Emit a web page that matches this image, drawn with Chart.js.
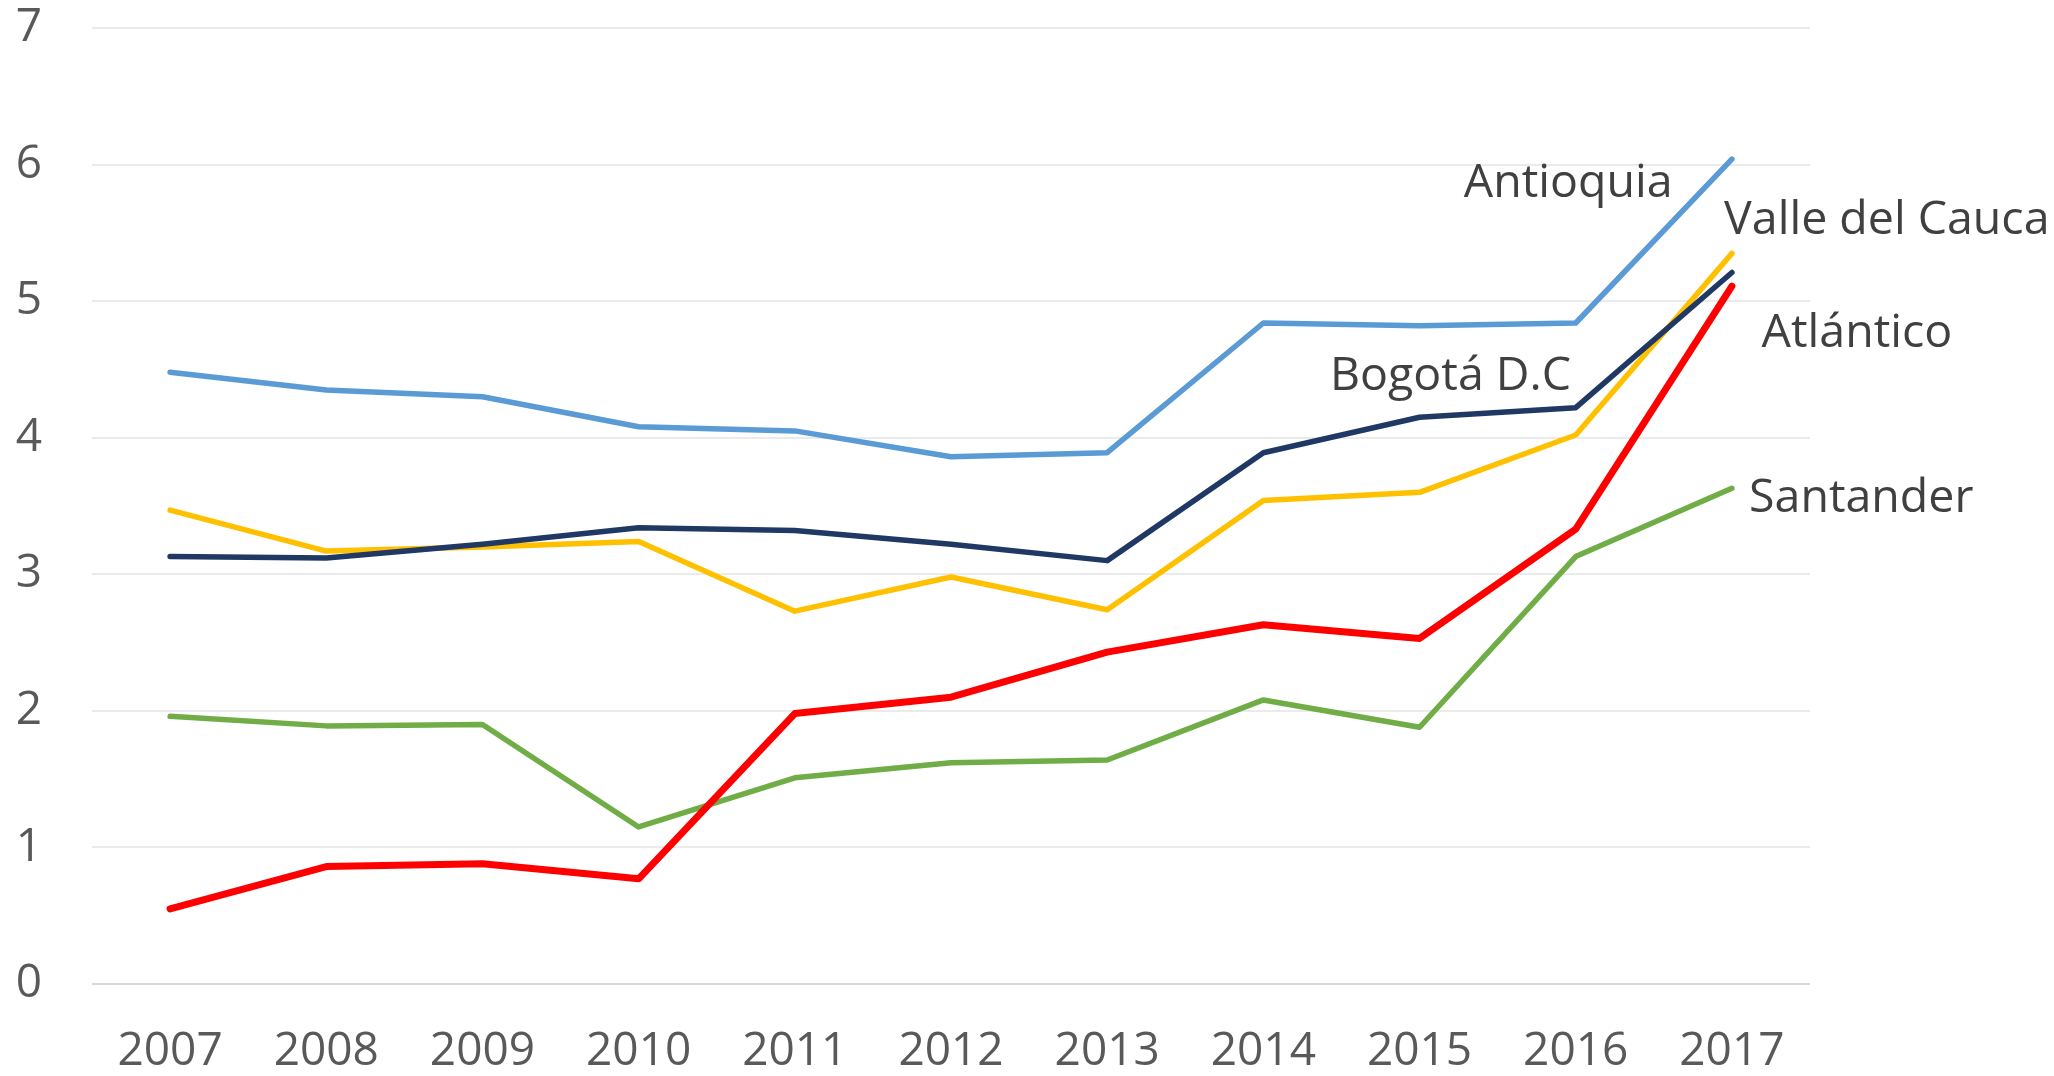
<!DOCTYPE html>
<html>
<head>
<meta charset="utf-8">
<script src="https://cdn.jsdelivr.net/npm/chart.js@4.4.1/dist/chart.umd.min.js"></script>
<style>
  html, body { margin: 0; padding: 0; background: #fff; }
  #wrap { width: 2054px; height: 1076px; }
</style>
</head>
<body>
<div id="wrap"><canvas id="chart"></canvas></div>
<script>
const years = ['2007', '2008', '2009', '2010', '2011', '2012', '2013', '2014', '2015', '2016', '2017'];
const yTicks = [0, 1, 2, 3, 4, 5, 6, 7];

const antioquia = [4.48, 4.35, 4.30, 4.08, 4.05, 3.86, 3.89, 4.84, 4.82, 4.84, 6.04];
const bogota    = [3.13, 3.12, 3.22, 3.34, 3.32, 3.22, 3.10, 3.89, 4.15, 4.22, 5.21];
const valle     = [3.47, 3.17, 3.20, 3.24, 2.73, 2.98, 2.74, 3.54, 3.60, 4.02, 5.35];
const atlantico = [0.55, 0.86, 0.88, 0.77, 1.98, 2.10, 2.43, 2.63, 2.53, 3.33, 5.11];
const santander = [1.96, 1.89, 1.90, 1.15, 1.51, 1.62, 1.64, 2.08, 1.88, 3.13, 3.63];

const seriesNames = ['Antioquia', 'Bogotá D.C', 'Valle del Cauca', 'Atlántico', 'Santander'];

const FONT = '"Open Sans", "Noto Sans", sans-serif';

// etiquetas de series: posicion en coordenadas de datos (indice de año, valor)
const seriesLabels = [
  { text: 'Antioquia',       x: 9.62, y: 5.86, align: 'right' },
  { text: 'Valle del Cauca', x: 9.95, y: 5.59, align: 'left' },
  { text: 'Atlántico',       x: 10.19, y: 4.76, align: 'left' },
  { text: 'Bogotá D.C',      x: 8.97, y: 4.45, align: 'right' },
  { text: 'Santander',       x: 10.11, y: 3.55, align: 'left' }
];

const labelPlugin = {
  id: 'seriesLabels',
  afterDatasetsDraw(chart) {
    const ctx = chart.ctx;
    const xs = chart.scales.x;
    const ys = chart.scales.y;
    ctx.save();
    ctx.font = '46.5px ' + FONT;
    ctx.fillStyle = '#404040';
    ctx.textBaseline = 'middle';
    seriesLabels.forEach(l => {
      ctx.textAlign = l.align;
      ctx.fillText(l.text, xs.getPixelForValue(l.x), ys.getPixelForValue(l.y));
    });
    ctx.restore();
  }
};

function line(label, data, color, width) {
  return {
    label: label,
    data: data,
    borderColor: color,
    backgroundColor: color,
    borderWidth: width,
    pointRadius: 0,
    tension: 0,
    borderCapStyle: 'round',
    borderJoinStyle: 'round'
  };
}

const ctx = document.getElementById('chart').getContext('2d');
new Chart(ctx, {
  type: 'line',
  data: {
    labels: years,
    datasets: [
      line(seriesNames[0], antioquia, '#5B9BD5', 5.5),
      line(seriesNames[1], bogota, '#203864', 5.5),
      line(seriesNames[2], valle, '#FFC000', 5.5),
      line(seriesNames[3], atlantico, '#FF0000', 7),
      line(seriesNames[4], santander, '#70AD47', 5.5)
    ]
  },
  options: {
    responsive: true,
    maintainAspectRatio: false,
    animation: false,
    layout: { padding: { top: 28, right: 244, left: 0, bottom: 0 } },
    plugins: {
      legend: { display: false },
      tooltip: { enabled: false }
    },
    scales: {
      x: {
        type: 'category',
        offset: true,
        grid: { display: false, drawTicks: false },
        border: { display: false },
        ticks: {
          color: '#595959',
          font: { family: FONT, size: 46 },
          padding: 40,
          maxRotation: 0
        },
        afterFit(scale) { scale.height = 92; }
      },
      y: {
        min: 0,
        max: 7,
        afterBuildTicks(scale) { scale.ticks = yTicks.map(v => ({ value: v })); },
        grid: {
          drawTicks: false,
          color: c => c.tick && c.tick.value === 0 ? '#D9D9D9' : '#EBEBEB',
          lineWidth: 2
        },
        border: { display: false },
        ticks: {
          color: '#595959',
          font: { family: FONT, size: 46 },
          padding: 50
        },
        afterFit(scale) {
          scale.width = 92;
          scale.paddingTop = 0;
          scale.paddingBottom = 0;
        }
      }
    }
  },
  plugins: [labelPlugin]
});
</script>
</body>
</html>
